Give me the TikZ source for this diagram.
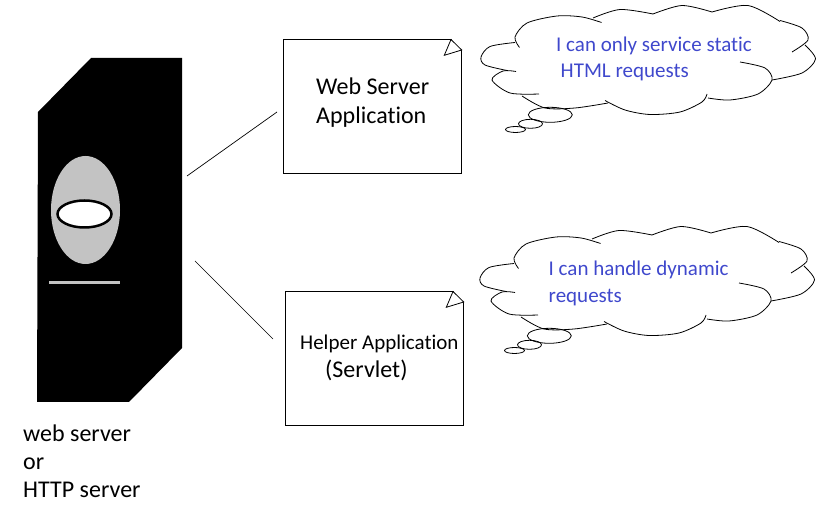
\documentclass[tikz,border=0pt]{standalone}
\usepackage{fontspec}
\setmainfont[Ligatures=NoCommon]{Carlito}
\usepackage{xcolor}
\definecolor{sayblue}{HTML}{3F48CC}
\definecolor{panelgrey}{HTML}{C3C3C3}

\tikzset{
    thoughtcloud/.pic={
        \draw [cloudline] plot [smooth] coordinates {(49.5,47.5) (45,37) (57,23) (87,16) (112,17) (131.5,22.5)};
        \draw [cloudline] plot [smooth] coordinates {(123,18) (150,9.5) (183,14)};
        \draw [cloudline] plot [smooth] coordinates {(183,14) (212,5.5) (242,12)};
        \draw [cloudline] plot [smooth] coordinates {(242,12) (278,5.5) (310,21.5)};
        \draw [cloudline] plot [smooth] coordinates {(310,20.5) (332,28) (338,40) (322,52)};
        \draw [cloudline] plot [smooth] coordinates {(335,45) (345.5,59) (332,73) (302,80)};
        \draw [cloudline] plot [smooth] coordinates {(270,62) (295,68) (302,80) (288,94) (260,100) (238,98)};
        \draw [cloudline] plot [smooth] coordinates {(237,94) (232,102) (210,112) (180,114.5) (155,110) (135,100.5)};
        \draw [cloudline] plot [smooth] coordinates {(138,103) (105,108) (75,108) (52,96)};
        \draw [cloudline] plot [smooth] coordinates {(69,94) (40,93) (22,80) (33,71) (46,71.5)};
        \draw [cloudline] plot [smooth] coordinates {(37,70.5) (15,65) (11,57) (20,46.5) (45,42.5)};
        \draw [cloudline] (80.3,114.8) ellipse (22 and 7.5);
        \draw [cloudline] (60.5,123.8) ellipse (12 and 4.5);
        \draw [cloudline] (45.5,129.5) ellipse (10 and 3);
    }
}

\begin{document}
\begin{tikzpicture}[
    x=1pt, y=-1pt,
    cloudline/.style={draw, line width=0.8pt},
    notebox/.style={draw, line width=0.9pt, fill=white, minimum width=178pt, minimum height=134pt, inner sep=0pt},
    fold/.style={draw, line width=0.8pt, fill=white},
    link/.style={draw, line width=0.7pt},
    bigtext/.style={anchor=base west, inner sep=0pt, font=\fontsize{24}{28}\selectfont},
    smalltext/.style={anchor=base west, inner sep=0pt, font=\fontsize{21}{25}\selectfont},
    saytext/.style={smalltext, text=sayblue}
]
    \useasboundingbox (0,0) rectangle (828,510);

    % server
    \fill [black] (91,58) -- (182,58) -- (182,348) -- (129,402) -- (37,402) -- (38,112) -- cycle;
    \fill [panelgrey] (85.5,210) ellipse (34.5 and 54);
    \draw [line width=2.5pt, fill=white] (84.5,214) ellipse (27 and 13.5);
    \draw [panelgrey, line width=3pt] (49,283) -- (120,283);

    \node [bigtext] (srvA) at (23,441.5) {web server};
    \node [bigtext] (srvB) at (23,469.5) {or};
    \node [bigtext] (srvC) at (23,498) {HTTP server};

    % boxes
    \node [notebox] (webapp) at (372.5,106.5) {};
    \node [notebox] (helper) at (374.5,358.5) {};
    \fill [white] (452,38) rectangle (464,50);
    \fill [white] (454,290) rectangle (466,302);
    \draw [fold] (451,39.5) -- (461.7,50) -- (444.3,55.3) -- cycle;
    \draw [fold] (453,291.5) -- (463.7,302) -- (446.3,307.3) -- cycle;

    \node [bigtext] (webA) at (316,94.5) {Web Server};
    \node [bigtext] (webB) at (316,123.5) {Application};
    \node [smalltext] (helpA) at (300,349.5) {Helper Application};
    \node [bigtext] (helpB) at (325,378) {(Servlet)};

    % connectors
    \coordinate (srvTop) at (187,176);
    \coordinate (srvLow) at (195,261);
    \coordinate (webIn) at (277,112);
    \coordinate (helpIn) at (273,339);
    \path [link] (srvTop) -- (webIn);
    \path [link] (srvLow) -- (helpIn);

    % clouds
    \pic at (470,0) {thoughtcloud};
    \pic at (469,221) {thoughtcloud};

    \node [saytext] (sayA) at (556,52) {I can only service static};
    \node [saytext] (sayB) at (560.5,77.5) {HTML requests};
    \node [saytext] (sayC) at (548.5,276) {I can handle dynamic};
    \node [saytext] (sayD) at (548.5,302.5) {requests};
\end{tikzpicture}
\end{document}
